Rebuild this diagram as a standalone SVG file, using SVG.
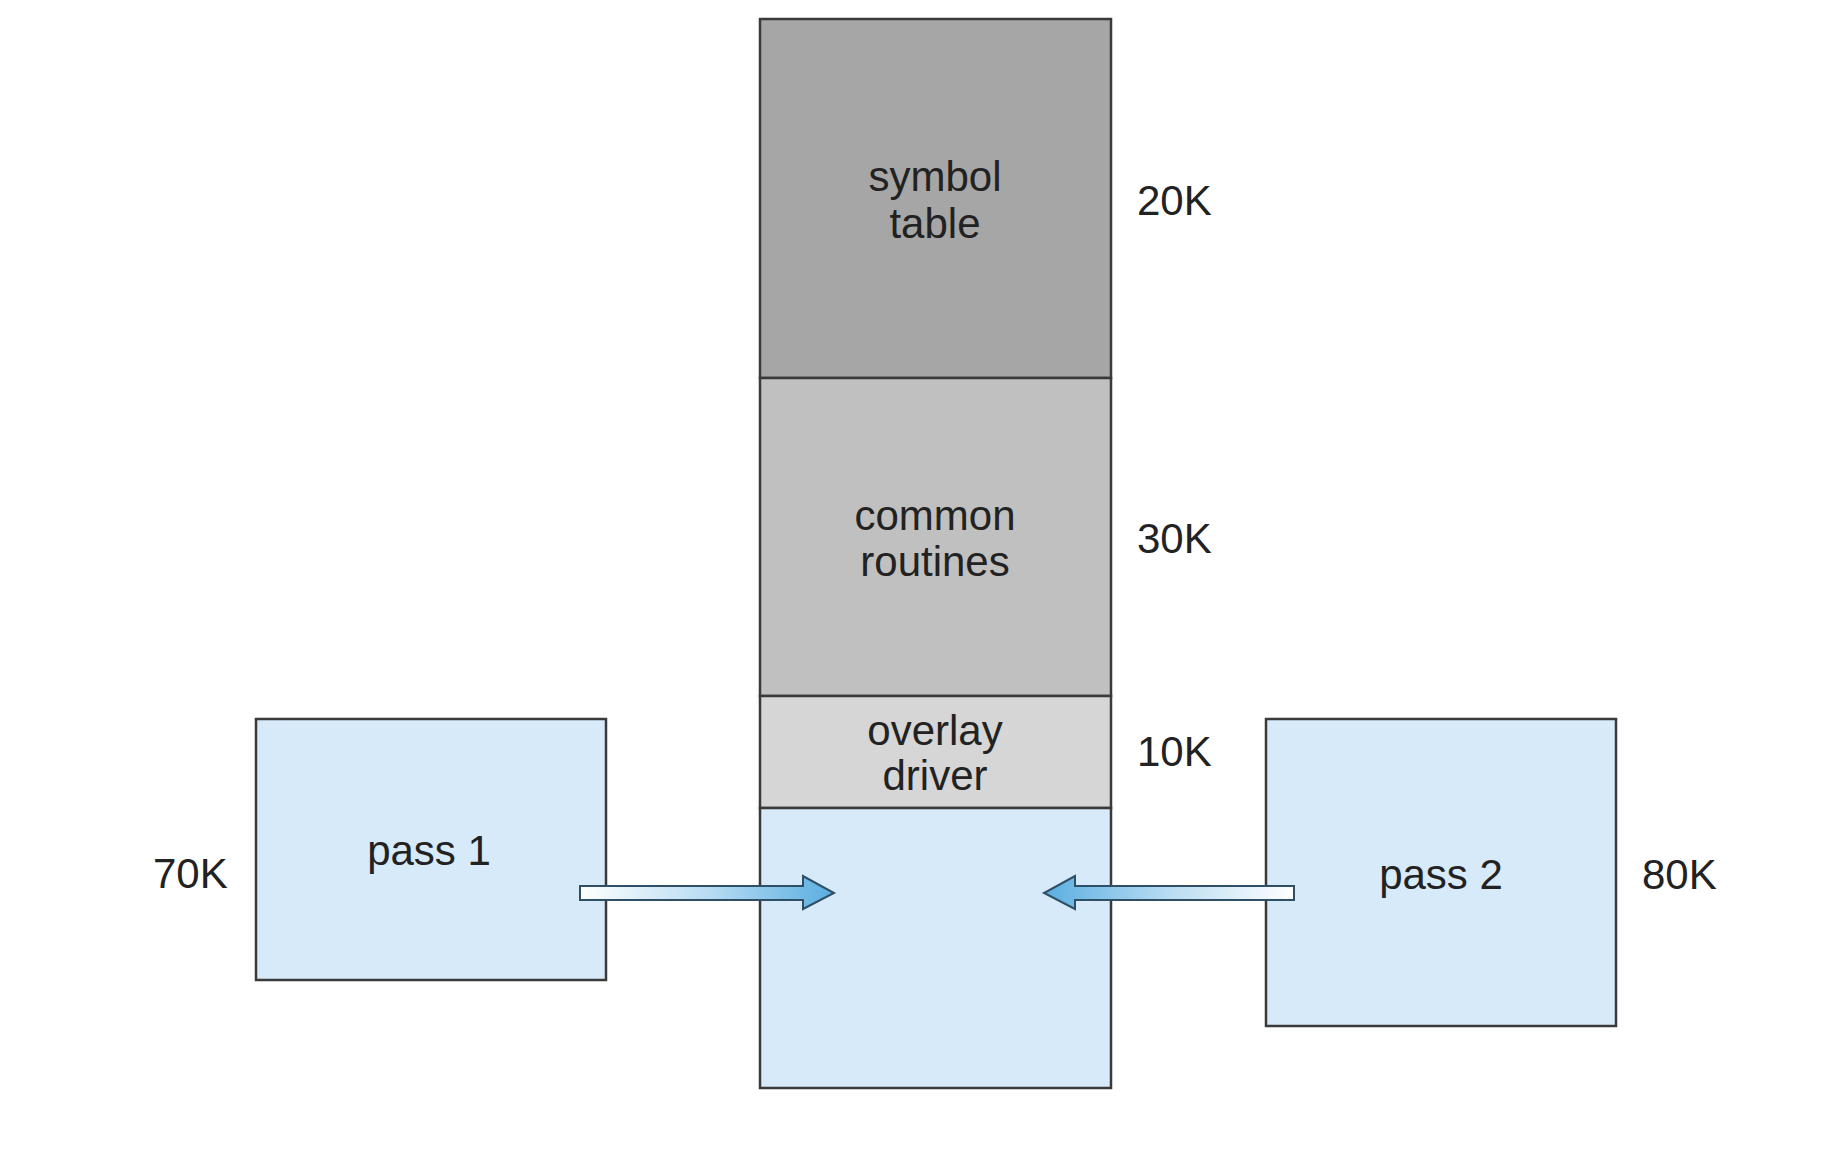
<svg xmlns="http://www.w3.org/2000/svg" width="1842" height="1160" viewBox="0 0 1842 1160">
<style>
.box{stroke:#3a3a3a;stroke-width:2.5}
.t{font-family:"Liberation Sans",Arial,sans-serif;font-size:42px;fill:#222;text-anchor:middle}
.l{font-family:"Liberation Sans",Arial,sans-serif;font-size:42px;fill:#222;text-anchor:start}
.arr{stroke:#2f4f66;stroke-width:2}
</style>
<defs>
<linearGradient id="gR" x1="0" x2="1" y1="0" y2="0"><stop offset="0" stop-color="#ffffff"/><stop offset="0.5" stop-color="#b9dcf2"/><stop offset="1" stop-color="#5aaee0"/></linearGradient>
<linearGradient id="gL" x1="1" x2="0" y1="0" y2="0"><stop offset="0" stop-color="#ffffff"/><stop offset="0.5" stop-color="#b9dcf2"/><stop offset="1" stop-color="#5aaee0"/></linearGradient>
</defs>
<rect width="1842" height="1160" fill="#fff"/>
<g id="symbol-table"><rect class="box" x="760" y="19" width="351" height="359" fill="#a6a6a6"/><text class="t" x="935" y="191">symbol</text><text class="t" x="935" y="238">table</text><text class="l" x="1137" y="215">20K</text></g>
<g id="common-routines"><rect class="box" x="760" y="378" width="351" height="318" fill="#c0c0c0"/><text class="t" x="935" y="530">common</text><text class="t" x="935" y="576">routines</text><text class="l" x="1137" y="553">30K</text></g>
<g id="overlay-driver"><rect class="box" x="760" y="696" width="351" height="112" fill="#d6d6d6"/><text class="t" x="935" y="745">overlay</text><text class="t" x="935" y="790">driver</text><text class="l" x="1137" y="766">10K</text></g>
<g id="overlay-area"><rect class="box" x="760" y="808" width="351" height="280" fill="#d6eaf9"/></g>
<g id="pass1"><rect class="box" x="256" y="719" width="350" height="261" fill="#d6eaf9"/><text class="t" x="429" y="865">pass 1</text><text class="l" x="153" y="888">70K</text></g>
<g id="pass2"><rect class="box" x="1266" y="719" width="350" height="307" fill="#d6eaf9"/><text class="t" x="1441" y="889">pass 2</text><text class="l" x="1642" y="889">80K</text></g>
<g id="connectors">
<path class="arr" fill="url(#gR)" d="M580,886 H803 V876 L834,893 L803,909 V900 H580 Z"/>
<path class="arr" fill="url(#gL)" d="M1294,886 H1075 V876 L1044,893 L1075,909 V900 H1294 Z"/>
</g>
</svg>
